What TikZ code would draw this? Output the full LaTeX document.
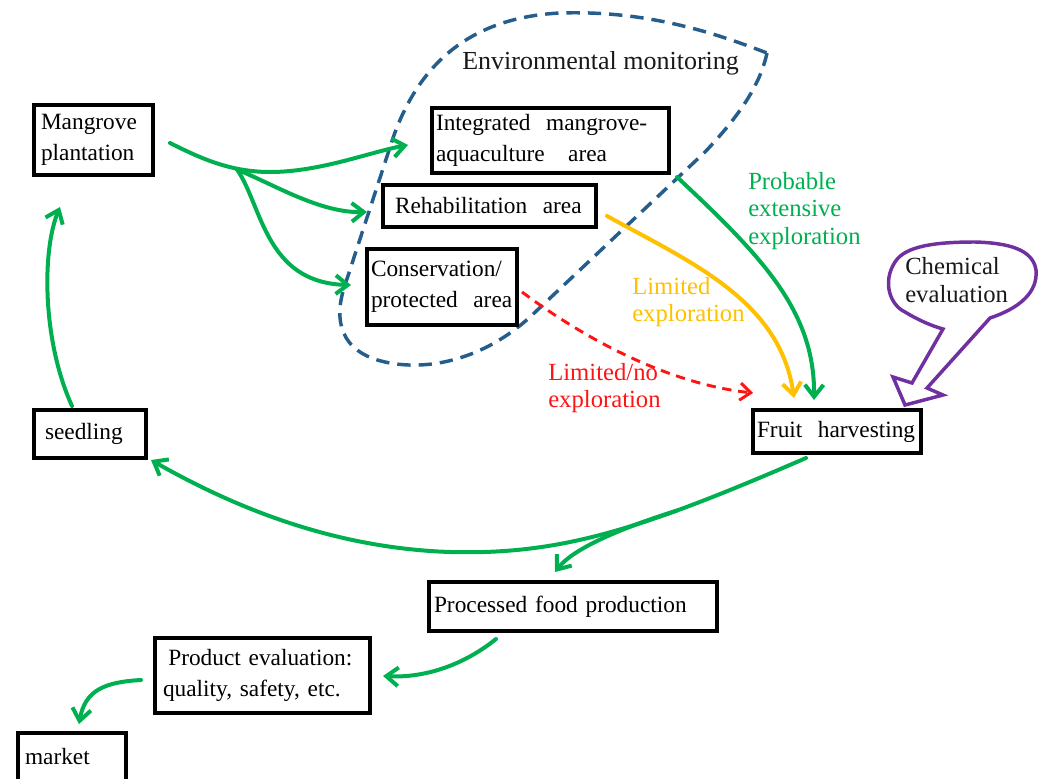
\documentclass[tikz,border=0pt]{standalone}
\usepackage{fontspec}
\setmainfont{Liberation Serif}
\newfontfamily\lserif{Liberation Serif}
\usetikzlibrary{arrows.meta,calc}
\definecolor{grn}{RGB}{0,176,80}
\definecolor{org}{RGB}{255,192,0}
\definecolor{rd}{RGB}{255,20,20}
\definecolor{pur}{RGB}{112,48,160}
\definecolor{dblue}{RGB}{37,94,140}
\definecolor{txt}{RGB}{25,25,25}
\tikzset{
  box/.style={draw, line width=3pt, fill=white, align=left, inner ysep=0pt, font=\lserif\fontsize{17.5}{23}\selectfont},
  lbl/.style={inner sep=0pt, align=left, anchor=west, font=\lserif\fontsize{18.5}{20.6}\selectfont},
  barb/.style={-{Straight Barb[length=9pt,width=14pt]}},
  garr/.style={draw=grn, line width=3pt, line cap=round, barb},
  oarr/.style={draw=org, line width=3pt, line cap=round, barb},
  rarr/.style={draw=rd, line width=2.2pt, dash pattern=on 7pt off 5pt, -{Straight Barb[length=8pt,width=13pt]}},
  envline/.style={draw=dblue, line width=2.6pt, dash pattern=on 10pt off 6pt},
  bubble/.style={draw=pur, line width=2.6pt, line join=miter}
}
\begin{document}
\begin{tikzpicture}[x=0.75pt,y=-0.75pt]
\useasboundingbox (0,0) rectangle (1044,778);

% environmental monitoring outline
\draw[envline] (767,53) .. controls (760,85) and (740,115) .. (705,152) -- (530,317)
  .. controls (485,358) and (430,372) .. (385,362)
  .. controls (340,352) and (333,320) .. (345,285) -- (393,138)
  .. controls (415,75) and (460,18) .. (560,13)
  .. controls (650,10) and (720,35) .. (767,53) -- cycle;
\node[lbl, text=txt, font=\lserif\fontsize{19.5}{22}\selectfont] (env) at (462,63) {Environmental monitoring};

% boxes
\node[box, minimum width=89.25pt, minimum height=52.5pt, text width=78.75pt, inner xsep=5.25pt] (mp) at (93.5,140) {Mangrove\\plantation};
\node[box, minimum width=177.75pt, minimum height=48.75pt, text width=171.75pt, inner xsep=3pt] (ima) at (550.5,140.5) {Integrated\ \ mangrove-\\aquaculture\ \ \ area};
\node[box, minimum width=159.75pt, minimum height=31.5pt, text width=141.75pt, inner xsep=9pt] (rehab) at (489.5,206) {Rehabilitation\ \ area};
\node[box, minimum width=112.5pt, minimum height=57pt, text width=106.5pt, inner xsep=3pt] (cons) at (442,287) {Conservation/\\protected\ \ area};
\node[box, minimum width=84pt, minimum height=36pt, text width=67.5pt, inner xsep=8.25pt] (seed) at (90,434) {seedling};
\node[box, minimum width=126pt, minimum height=32.25pt, text width=120pt, inner xsep=3pt] (fruit) at (837,431.5) {Fruit\ \ harvesting};
\node[box, minimum width=216pt, minimum height=36.75pt, text width=208.5pt, inner xsep=3.75pt] (proc) at (573,606.5) {Processed food production};
\node[box, minimum width=161.25pt, minimum height=56.25pt, text width=149.25pt, inner xsep=6pt] (prodev) at (262.5,675.5) {\hspace*{4pt}Product evaluation:\\quality,\ safety,\ etc.};
\node[box, minimum width=81pt, minimum height=36pt, text width=70.5pt, inner xsep=5.25pt] (market) at (72,757) {market};

% labels
\node[lbl, text=grn] (prob) at (748,211) {Probable\\extensive\\exploration};
\node[lbl, text=org] (limo) at (632,302) {Limited\\exploration};
\node[lbl, text=rd] (limr) at (548,388) {Limited/no\\exploration};

% mangrove plantation to the three areas
\draw[garr] ($(mp.east)+(15,3)$) .. controls (200,158) and (230,172) .. (270,172)
  .. controls (320,172) and (370,152) .. ($(ima.west)+(-22,4.5)$);
\coordinate (split) at (237,169.5);
\draw[garr] (split) .. controls (275,185) and (320,213) .. ($(rehab.west)+(-14,6)$);
\draw[garr] (split) .. controls (262,205) and (265,283) .. ($(cons.west)+(-14,-2)$);

% seedling to mangrove plantation
\draw[garr] ($(seed.north)+(-18,-2)$) .. controls (42,340) and (42,250) .. ($(mp.south)+(-33.5,30)$);

% areas to fruit harvesting
\draw[garr] ($(ima.south east)+(6,2)$) .. controls (760,255) and (815,310) .. ($(fruit.north)+(-23,-8)$);
\draw[oarr] ($(rehab.east)+(9,10)$) .. controls (690,262) and (780,300) .. ($(fruit.north)+(-43,-10)$);
\draw[rarr] ($(cons.east)+(3,5)$) .. controls (600,350) and (680,385) .. ($(fruit.north west)+(2,-15)$);

% fruit harvesting to seedling and processed food
\draw[garr] ($(fruit.south)+(-31,3)$) .. controls (640,530) and (560,555) .. (450,552) coordinate[pos=0.3] (br)
  .. controls (330,548) and (230,505) .. ($(seed.south east)+(3,0)$);
\draw[garr] (br) .. controls (615,530) and (572,550) .. ($(proc.north)+(-18,-8)$);

% processed food to product evaluation to market
\draw[garr] ($(proc.south)+(-77,6)$) .. controls (460,668) and (420,678) .. ($(prodev.east)+(11,0.5)$);
\draw[garr] ($(prodev.west)+(-12,4.5)$) .. controls (105,682) and (85,690) .. ($(market.north)+(7,-7)$);

% chemical evaluation callout
\draw[bubble] (943,329) -- (912,383) -- (893,377) -- (905,405) -- (943,395) -- (927,388) -- (990,318)
  .. controls (1020,308) and (1038,292) .. (1036,270)
  .. controls (1033,250) and (1010,243) .. (975,242)
  .. controls (935,242) and (905,246) .. (895,262)
  .. controls (882,282) and (890,305) .. (905,312)
  .. controls (918,320) and (932,326) .. (943,329) -- cycle;
\node[lbl, text=txt] (chem) at (905,280) {Chemical\\evaluation};
\end{tikzpicture}
\end{document}
